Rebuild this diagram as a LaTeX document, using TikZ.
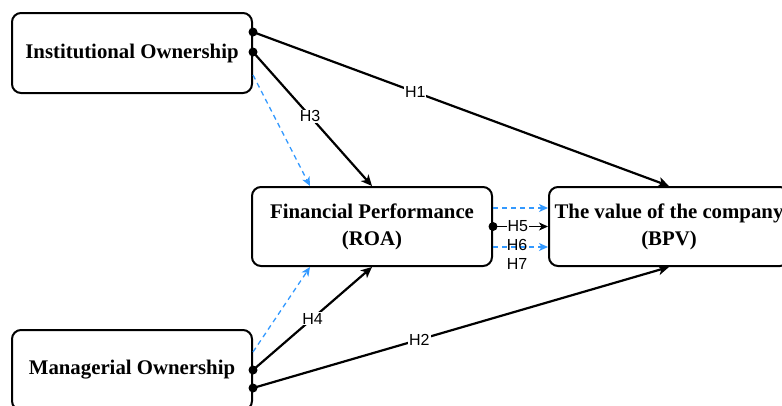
\documentclass[tikz,border=0pt]{standalone}
\usepackage{fontspec}
\setmainfont{Liberation Serif}
\newfontfamily\hfont{Liberation Sans}
\usetikzlibrary{arrows.meta,positioning,calc}
\definecolor{cmod}{RGB}{51,153,255}

\begin{document}
\begin{tikzpicture}[x=1pt,y=-1pt,>={Stealth[length=11pt,width=10pt,inset=3pt]},
  var/.style={draw,line width=2pt,rounded corners=9pt,align=center,minimum width=240pt,minimum height=80pt,inner sep=0pt,font=\fontsize{20.8}{27}\selectfont\bfseries},
  hyp/.style={->,line width=2.2pt},
  mod/.style={-{Stealth[length=9pt,width=8pt,inset=2.5pt]},cmod,line width=1.3pt,dash pattern=on 5pt off 4pt},
  lab/.style={fill=white,inner sep=1pt,font=\hfont\fontsize{16}{19}\selectfont},
  dot/.style={circle,fill=black,inner sep=0pt,minimum size=9pt}]

\clip (0,0) rectangle (782,405);

% ===== variables =====
\node[var] (inst) at (132,53) {Institutional Ownership};
\node[var,minimum height=79pt] (roa) at (372,226.5) {Financial Performance\\(ROA)};
\node[var,minimum height=79pt] (bpv) at (669,226.5) {The value of the company\\(BPV)};
\node[var] (mgr) at (132,370) {Managerial Ownership};

% ports
\coordinate (i1) at ([yshift=21pt]inst.east);
\coordinate (i2) at ([yshift=1pt]inst.east);
\coordinate (i3) at ([yshift=-22pt]inst.east);
\coordinate (m1) at (mgr.east);
\coordinate (m2) at ([yshift=-18pt]mgr.east);
\coordinate (m3) at ([yshift=18pt]mgr.east);
\coordinate (r0) at (roa.east);

% ===== hypotheses =====
\draw[hyp] (i1) -- node[lab,pos=0.39] (h1) {H1} (bpv.north);
\draw[hyp] (i2) -- node[lab,pos=0.48] (h3) {H3} (roa.north);
\draw[mod] (i3) -- ([xshift=-62pt]roa.north);
\draw[hyp] (m1) -- node[lab,pos=0.5] (h4) {H4} (roa.south);
\draw[mod] (m3) -- ([xshift=-62pt]roa.south);
\draw[hyp] (m2) -- node[lab,pos=0.4] (h2) {H2} (bpv.south);

% ROA -> BPV
\draw[mod] ([yshift=18.5pt]roa.east) -- ([yshift=18.5pt]bpv.west);
\draw[->,line width=1.3pt,>={Stealth[length=9pt,width=8pt,inset=2.5pt]}] (r0) -- node[lab,pos=0.45] (h5) {H5} (bpv.west);
\draw[mod] ([yshift=-20.5pt]roa.east) -- ([yshift=-20.5pt]bpv.west);
\node[lab,fill=none,align=center] (h67) at (517,254) {H6\\H7};

\foreach \c in {i1,i2,m1,m2,r0}{\node[dot] (dot-\c) at (\c) {};}
\end{tikzpicture}
\end{document}
